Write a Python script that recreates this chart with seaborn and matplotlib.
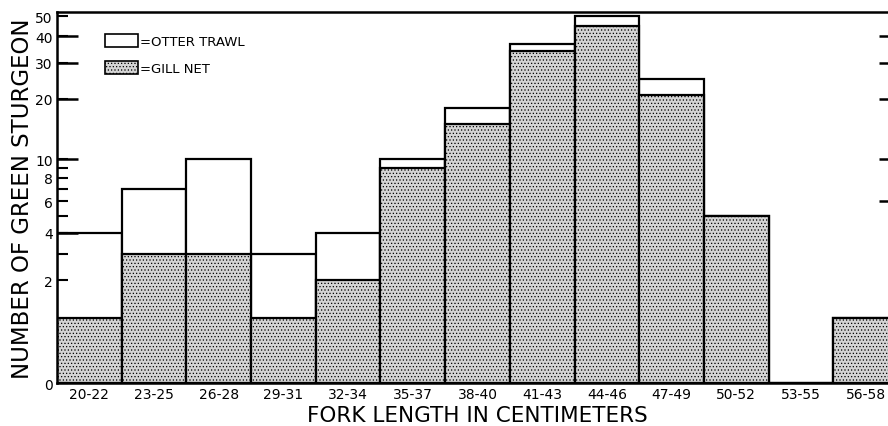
import numpy as np
import pandas as pd
import matplotlib
matplotlib.use("Agg")
import matplotlib.pyplot as plt
from matplotlib.patches import Patch
from matplotlib.ticker import NullFormatter, NullLocator
import seaborn as sns

# fork length classes (cm)
classes = ["20-22", "23-25", "26-28", "29-31", "32-34", "35-37", "38-40",
           "41-43", "44-46", "47-49", "50-52", "53-55", "56-58"]
# total catch (otter trawl stacked on gill net)
total = [4, 7, 10, 3, 4, 10, 18, 37, 50, 25, 5, 0, 1]
gill_net = [1, 3, 3, 1, 2, 9, 15, 34, 45, 21, 5, 0, 1]

y_ticks = [0, 2, 3, 4, 5, 6, 7, 8, 9, 10, 20, 30, 40, 50]
y_ticklabels = ["0", "2", "", "4", "", "6", "", "8", "", "10", "20", "30", "40", "50"]
y_long = [4, 10, 20, 30, 40]
y_right = [6, 10, 20, 30, 40]

df = pd.DataFrame({"clase": classes, "total": total, "gill": gill_net})

sns.set_style("white")
plt.rcParams["font.family"] = ["DejaVu Sans"]
plt.rcParams["text.color"] = "black"
plt.rcParams["axes.labelcolor"] = "black"
plt.rcParams["xtick.color"] = "black"
plt.rcParams["ytick.color"] = "black"
plt.rcParams["hatch.color"] = "#8c8c8c"
plt.rcParams["hatch.linewidth"] = 0.5


def fwd(y):
    return np.log10(np.clip(np.asarray(y, dtype=float) + 1, 1e-9, None))


def inv(y):
    return 10 ** np.asarray(y, dtype=float) - 1


fig = plt.figure(figsize=(8.88, 4.27), dpi=100)
ax = fig.add_axes([0.0642, 0.1007, 0.947, 0.869])

sns.barplot(data=df, x="clase", y="total", color="white", edgecolor="black",
            linewidth=1.6, width=1.0, saturation=1, ax=ax)
sns.barplot(data=df, x="clase", y="gill", color="#d4d4d4", edgecolor="black",
            linewidth=1.6, width=1.0, saturation=1, hatch=".....", ax=ax)
ax.set_axisbelow(False)

ax.set_yscale("function", functions=(fwd, inv))
ax.set_ylim(0, 52.3)
ax.set_xlim(-0.5, 12.5)

ax.yaxis.remove_overlapping_locs = False
ax.set_yticks(y_ticks)
ax.set_yticklabels(y_ticklabels)
ax.set_yticks(y_long, minor=True)
ax.yaxis.set_minor_formatter(NullFormatter())
ax.tick_params(axis="y", which="major", direction="in", length=8, width=1.5,
               labelsize=10, pad=3, left=True, right=False)
ax.tick_params(axis="y", which="minor", direction="in", length=15, width=1.8,
               left=True, right=False)
ax.tick_params(axis="x", length=0, labelsize=10, pad=3)

# ticks on the right edge
ax2 = ax.twinx()
ax2.set_yscale("function", functions=(fwd, inv))
ax2.set_ylim(0, 52.3)
ax2.set_yticks(y_right)
ax2.yaxis.set_major_formatter(NullFormatter())
ax2.yaxis.set_minor_locator(NullLocator())
ax2.tick_params(axis="y", direction="in", length=14, width=1.8, right=True, left=False)
for s in ax2.spines.values():
    s.set_visible(False)

for s in ["left", "top", "bottom"]:
    ax.spines[s].set_linewidth(1.8)
    ax.spines[s].set_color("black")
ax.spines["right"].set_visible(False)

ax.set_xlabel("FORK LENGTH IN CENTIMETERS", fontsize=15.5, labelpad=3)
ax.set_ylabel("NUMBER OF GREEN STURGEON", fontsize=16.5, labelpad=1)

handles = [Patch(facecolor="white", edgecolor="black", linewidth=1.2),
           Patch(facecolor="#d4d4d4", edgecolor="black", linewidth=1.2, hatch=".....")]
ax.legend(handles, ["=OTTER TRAWL", "=GILL NET"], loc="upper left",
          bbox_to_anchor=(0.057, 0.94), frameon=False, fontsize=9.5,
          handlelength=2.5, handleheight=1.15, handletextpad=0.15,
          labelspacing=0.95, borderpad=0, borderaxespad=0)

fig.savefig("out.png", dpi=100)
